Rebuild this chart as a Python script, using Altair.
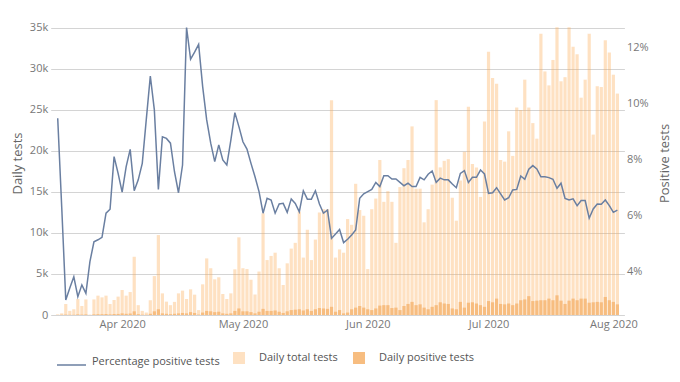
import altair as alt
import pandas as pd

# ---------------- data ----------------
start_date = "2020-03-16"

total_tests = [
    50, 200, 1340, 500, 700, 1950, 1100, 1900, 50, 1900,
    2360, 2150, 2360, 1340, 1830, 2240, 3050, 2360, 2800, 7100,
    1200, 500, 300, 1800, 4750, 9750, 2640, 1630, 1200, 1600,
    2640, 2970, 1950, 3130, 2480, 600, 3740, 6900, 5700, 4350,
    4600, 2560, 1950, 2640, 5570, 9470, 5700, 5600, 4300, 2500,
    5300, 12400, 6700, 7200, 7600, 5700, 3660, 6300, 8100, 8800,
    12600, 7000, 10400, 6700, 9200, 12500, 12900, 12900,
    26200, 7000, 8000, 7600, 11700, 11000, 16000, 12800, 12100, 5600,
    12900, 14200, 18900, 13800, 15100, 13800, 8800, 15600, 17900, 18900,
    23000, 15400, 15400, 11300, 12900, 15900, 26200, 18000, 18800, 19000,
    14300, 11500, 16400, 19900, 25400, 18400, 18000, 14400, 23600, 32100,
    28900, 28200, 18900, 18700, 22400, 19400, 25300, 25000, 28700, 25300,
    23400, 21500, 34300, 29700, 28000, 31100, 35100, 28500, 29000, 35100,
    32700, 31800, 26500, 28700, 34300, 22000, 27900, 27800, 33500, 32000,
    29300, 27000,
]

positive_tests = [
    20, 30, 50, 30, 30, 80, 50, 70, 5, 80,
    100, 100, 120, 80, 120, 130, 200, 150, 180,
    450, 100, 40, 30, 150, 450, 700, 200, 150, 100, 150, 200, 250, 200,
    350, 250, 50, 300, 500, 450, 350, 400, 200, 150, 200, 500, 800,
    450, 450, 350, 200, 400, 750, 500, 500, 550, 400, 250, 450, 600, 650,
    700, 550, 700, 500, 700, 850, 800, 750,
    1000, 400, 600, 200, 300, 700, 900, 1100, 900, 700,
    600, 800, 1150, 1200, 1200, 850, 900, 600, 1100, 1350,
    1600, 1200, 1300, 900, 700, 1000, 1200, 1550, 1400, 1350,
    800, 700, 1600, 900, 1500, 1550, 1400, 1200, 1000, 1700,
    1550, 2000, 1350, 1300, 1400, 1200, 1400, 1800, 1900, 2300,
    1700, 1750, 1800, 1800, 2000, 1800, 2400, 1750, 1350, 1750,
    2000, 1800, 2000, 2000, 1500, 1550, 1600, 1550, 2200, 1800,
    1600, 1300,
]

pct_positive = [
    9.49, 6.3, 3.0, 3.43, 3.83, 3.12, 3.54, 3.24, 4.37, 5.08,
    5.15, 5.24, 6.10, 6.24, 8.12, 7.52, 6.85, 7.76, 8.38, 6.90,
    7.29, 7.88, 9.45, 11.0, 9.79, 6.95, 8.83, 8.77, 8.60, 7.58,
    6.83, 7.82, 12.73, 11.6, 11.85, 12.13, 10.62, 9.43, 8.60, 7.94,
    8.54, 8.0, 7.82, 8.71, 9.69, 9.19, 8.65, 8.39, 7.88, 7.40,
    6.87, 6.10, 6.63, 6.57, 6.10, 6.43, 6.45, 6.13, 6.61, 6.45,
    6.15, 6.90, 6.60, 6.60, 6.90, 6.43, 6.10, 6.21,
    5.20, 5.36, 5.52, 5.05, 5.17, 5.32, 5.50, 6.63, 6.79, 6.87,
    6.95, 7.20, 7.05, 7.44, 7.44, 7.32, 7.32, 7.20, 7.08, 7.17,
    7.05, 7.05, 7.38, 7.29, 7.49, 7.61, 7.20, 7.35, 7.29, 7.29,
    7.14, 7.01, 7.52, 7.62, 7.20, 7.38, 7.38, 7.64, 7.50, 6.81,
    6.83, 7.01, 6.79, 6.57, 6.65, 6.93, 6.95, 7.43, 7.31, 7.67,
    7.80, 7.68, 7.40, 7.40, 7.37, 7.31, 6.99, 7.17, 6.63, 6.57,
    6.61, 6.37, 6.55, 6.55, 5.92, 6.25, 6.43, 6.42, 6.57, 6.37,
    6.13, 6.21,
]

left_ticks = [0, 5000, 10000, 15000, 20000, 25000, 30000, 35000]
right_ticks = [4, 6, 8, 10, 12]
month_ticks = [4, 5, 6, 7, 8]

dates = pd.date_range(start_date, periods=len(total_tests), freq="D")
df = pd.DataFrame({
    "date": dates,
    "total": total_tests,
    "positive": positive_tests,
    "pct": pct_positive,
})

FONT = "Open Sans"
LABEL_COLOR = "#777777"
TITLE_COLOR = "#666666"
ORANGE = "#fdaa50"
DARK_ORANGE = "#f7bd80"
LINE_COLOR = "#6a7fa1"

x_enc = alt.X(
    "date:T",
    scale=alt.Scale(domain=[
        alt.DateTime(year=2020, month=3, date=15, hours=12),
        alt.DateTime(year=2020, month=8, date=2, hours=12),
    ]),
    axis=alt.Axis(
        values=[alt.DateTime(year=2020, month=m, date=1) for m in month_ticks],
        format="%b %Y", grid=False, ticks=False, domain=False,
        labelFont=FONT, labelFontSize=11, labelColor=LABEL_COLOR,
        labelPadding=3, title=None,
    ),
)

left_axis = alt.Axis(
    values=left_ticks,
    labelExpr="datum.value == 0 ? '0' : (datum.value / 1000) + 'k'",
    grid=True, gridColor="#d4d4d4", gridWidth=1,
    ticks=False, domain=False,
    labelFont=FONT, labelFontSize=11, labelColor=LABEL_COLOR, labelPadding=3,
    title="Daily tests", titleFont=FONT, titleFontSize=13,
    titleFontWeight="normal", titleColor=TITLE_COLOR,
    titleX=-33, titleBaseline="middle",
)
left_scale = alt.Scale(domain=[0, 37070], nice=False, zero=True)

legend_common = dict(
    orient="none", title=None, padding=0,
    labelFont=FONT, labelFontSize=11, labelColor="#555555",
)

bars_total = (
    alt.Chart(df)
    .transform_calculate(series="'Daily total tests'")
    .mark_bar(size=3.2, opacity=0.35)
    .encode(
        x=x_enc,
        y=alt.Y("total:Q", scale=left_scale, axis=left_axis),
        color=alt.Color(
            "series:N",
            scale=alt.Scale(domain=["Daily total tests"], range=[ORANGE]),
            legend=alt.Legend(
                legendX=182.3, legendY=341, symbolType="square",
                symbolSize=144, symbolOpacity=0.35, symbolStrokeWidth=0,
                labelOffset=14, **legend_common,
            ),
        ),
    )
)

bars_pos = (
    alt.Chart(df)
    .transform_calculate(series2="'Daily positive tests'")
    .mark_bar(size=3.2)
    .encode(
        x=x_enc,
        y=alt.Y("positive:Q", scale=left_scale, axis=left_axis),
        color=alt.Color(
            "series2:N",
            scale=alt.Scale(domain=["Daily positive tests"], range=[DARK_ORANGE]),
            legend=alt.Legend(
                legendX=302.3, legendY=341, symbolType="square",
                symbolSize=144, symbolStrokeWidth=0,
                labelOffset=14, **legend_common,
            ),
        ),
    )
)

line = (
    alt.Chart(df)
    .transform_calculate(series3="'Percentage positive tests'")
    .mark_line(strokeWidth=1.5)
    .encode(
        x=x_enc,
        y=alt.Y(
            "pct:Q",
            scale=alt.Scale(domain=[2.464, 13.32], nice=False, zero=False),
            axis=alt.Axis(
                orient="right", values=right_ticks,
                labelExpr="datum.value + '%'",
                grid=False, ticks=False, domain=False,
                labelFont=FONT, labelFontSize=11, labelColor=LABEL_COLOR,
                labelPadding=2,
                title="Positive tests", titleFont=FONT, titleFontSize=13,
                titleFontWeight="normal", titleColor=TITLE_COLOR,
                titleAngle=270, titleX=40, titleBaseline="middle",
            ),
        ),
        color=alt.Color(
            "series3:N",
            scale=alt.Scale(domain=["Percentage positive tests"], range=[LINE_COLOR]),
            legend=alt.Legend(
                legendX=5.3, legendY=338.5, symbolType="stroke",
                symbolSize=841, symbolStrokeWidth=1.5,
                labelOffset=5, labelBaseline="alphabetic", **legend_common,
            ),
        ),
    )
)

bars = alt.layer(bars_total, bars_pos).resolve_scale(color="independent")

chart = (
    alt.layer(bars, line)
    .resolve_scale(y="independent", color="independent")
    .properties(
        width=573.7, height=304,
        padding={"left": 42.7, "top": 3, "right": 47.6, "bottom": 59},
        autosize="none",
        background="white",
    )
    .configure_view(stroke=None)
)

chart.save("out.html", embed_options={"renderer": "svg", "actions": False})
